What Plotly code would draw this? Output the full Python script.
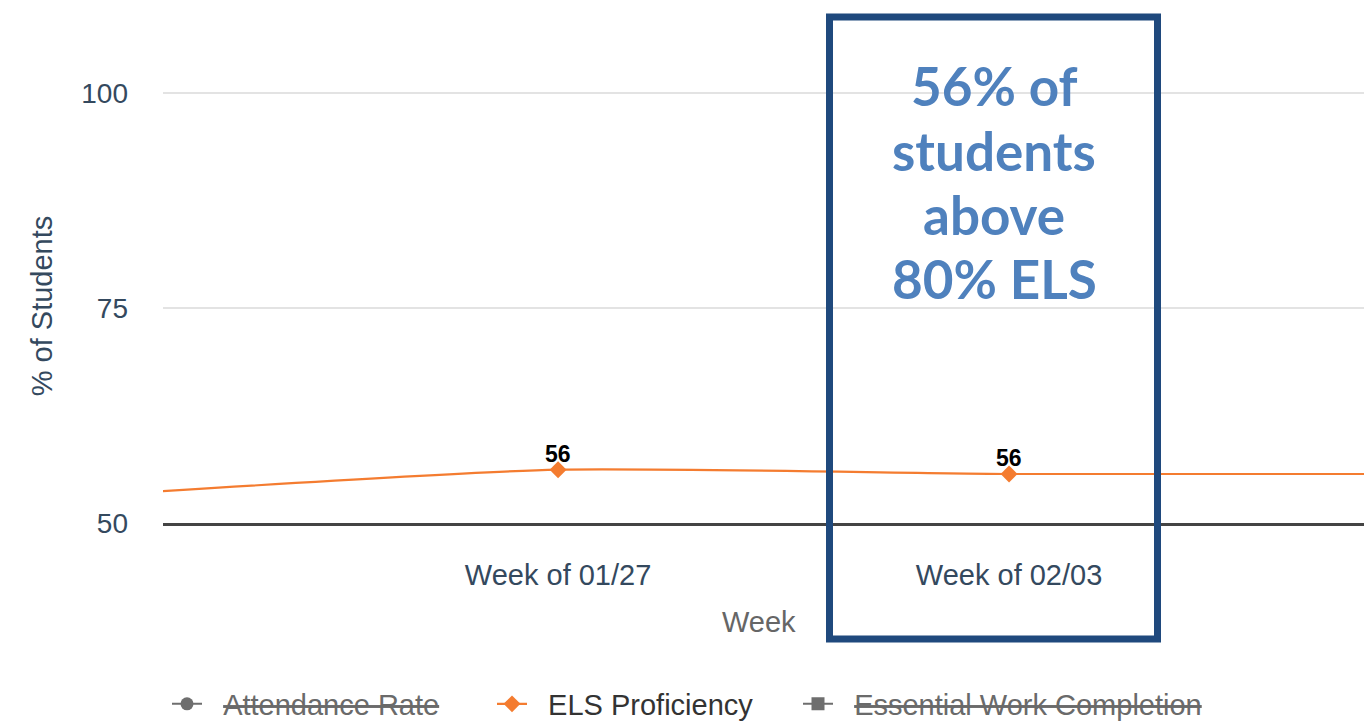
import plotly.graph_objects as go

# Weekly share of students above the ELS threshold
weeks = ["Week of 01/20", "Week of 01/27", "Week of 02/03", "Week of 02/10"]
els_proficiency = [53.3, 56.2, 55.7, 55.7]
y_ticks = [50, 75, 100]
hidden_series = ["Attendance Rate", "Essential Work Completion"]
callout_lines = ["56% of", "students", "above", "80% ELS"]

X_RANGE = [0.124, 2.787]
Y_RANGE = [50, 100.465]

W, H = 1364, 724
L, R, T, B = 163, 0, 89, 201
PLOT_W, PLOT_H = W - L - R, H - T - B


def px_x(px):
    return (px - L) / PLOT_W


def px_y(py):
    return (H - B - py) / PLOT_H


AXIS_FONT = "Liberation Sans, Arial, sans-serif"
SLATE = "#34495e"
ORANGE = "#F47C30"
GREY = "#6e6e6e"
NB = "\u00a0\u00a0"

fig = go.Figure()

fig.add_trace(go.Scatter(
    x=[None], y=[None],
    name=f"{NB}<span style='color:#6a6a6a'><s>{hidden_series[0]}</s></span>",
    mode="lines+markers", legend="legend",
    line=dict(color=GREY, width=2),
    marker=dict(symbol="circle", size=13, color=GREY),
))

fig.add_trace(go.Scatter(
    x=list(range(len(weeks))), y=els_proficiency,
    name=f"{NB}ELS Proficiency", legend="legend2",
    mode="lines+markers",
    line=dict(color=ORANGE, width=2.2, shape="spline", smoothing=0.6),
    marker=dict(symbol="diamond", size=13, color=ORANGE),
))

fig.add_trace(go.Scatter(
    x=[None], y=[None],
    name=f"{NB}<span style='color:#6a6a6a'><s>{hidden_series[1]}</s></span>",
    mode="lines+markers", legend="legend3",
    line=dict(color=GREY, width=2),
    marker=dict(symbol="square", size=13, color=GREY),
))

# Value labels above the points inside the visible week window
for i, v in enumerate(els_proficiency):
    if X_RANGE[0] <= i <= X_RANGE[1]:
        fig.add_annotation(
            x=i, y=v, text=f"{v:.0f}", showarrow=False,
            xanchor="center", yanchor="bottom", yshift=1,
            font=dict(family=AXIS_FONT, size=23, color="#000000", weight="bold"),
        )

# Callout frame around the latest week
fig.add_shape(
    type="rect", xref="paper", yref="paper",
    x0=px_x(829.5), x1=px_x(1157.5), y0=px_y(639), y1=px_y(17),
    line=dict(color="#1F497D", width=7), fillcolor="rgba(0,0,0,0)",
    layer="above",
)

line_centers = [86, 150, 214, 278]
for text, cy in zip(callout_lines, line_centers):
    fig.add_annotation(
        text=text, xref="paper", yref="paper",
        x=px_x(994), y=px_y(cy), xanchor="center", yanchor="middle",
        showarrow=False,
        font=dict(family="Lato", size=53, color="#4F81BD", weight="bold"),
    )

fig.add_annotation(
    text="Week", xref="paper", yref="paper",
    x=px_x(759), y=px_y(622), xanchor="center", yanchor="middle",
    showarrow=False, font=dict(family=AXIS_FONT, size=29, color="#666666"),
)

legend_font = dict(family=AXIS_FONT, size=29, color="#333333")
legend_common = dict(
    orientation="h", xanchor="left", y=px_y(704), yanchor="middle",
    font=legend_font, bgcolor="rgba(0,0,0,0)", borderwidth=0,
)

fig.update_layout(
    width=W, height=H,
    margin=dict(l=L, r=R, t=T, b=B, autoexpand=False),
    paper_bgcolor="white", plot_bgcolor="white",
    showlegend=True,
    legend=dict(x=px_x(167), **legend_common),
    legend2=dict(x=px_x(492), **legend_common),
    legend3=dict(x=px_x(798), **legend_common),
    xaxis=dict(
        range=X_RANGE,
        tickvals=list(range(len(weeks))), ticktext=weeks,
        showgrid=False, zeroline=False,
        showline=True, linecolor="#444444", linewidth=2.5,
        ticks="", ticklabelstandoff=24,
        tickfont=dict(family=AXIS_FONT, size=29, color=SLATE),
    ),
    yaxis=dict(
        range=Y_RANGE, tickvals=y_ticks,
        showgrid=True, gridcolor="#e3e3e3", gridwidth=2,
        zeroline=False, showline=False, ticks="",
        ticklabelstandoff=34,
        tickfont=dict(family=AXIS_FONT, size=28, color=SLATE),
        title=dict(text="% of Students", standoff=20,
                   font=dict(family=AXIS_FONT, size=29, color=SLATE)),
    ),
)

fig.write_html("out.html")
